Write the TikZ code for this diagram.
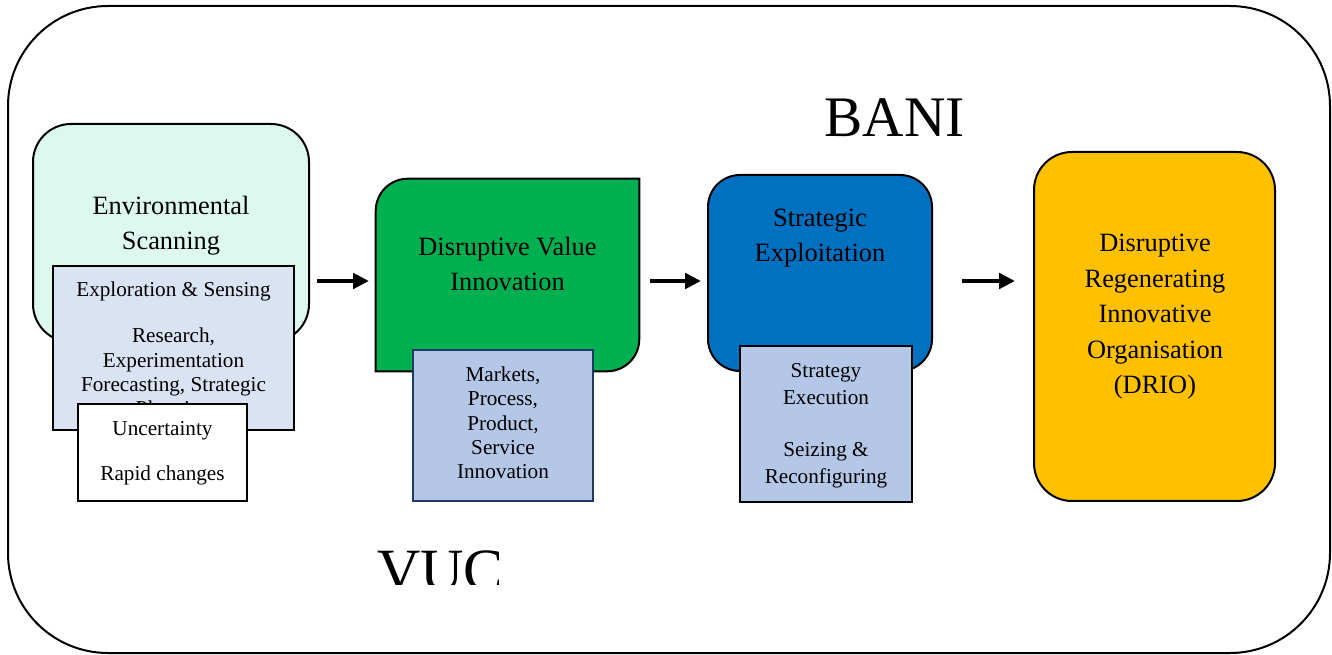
\documentclass[tikz,border=0pt]{standalone}
\usepackage{fontspec}
\setmainfont{Liberation Serif}
\usetikzlibrary{arrows.meta}

\definecolor{envfill}{HTML}{DCF8EF}
\definecolor{expfill}{HTML}{DAE3F3}
\definecolor{dvigreen}{HTML}{00B050}
\definecolor{seblue}{HTML}{0070C0}
\definecolor{drioyellow}{HTML}{FFC000}
\definecolor{subfill}{HTML}{B4C7E7}
\definecolor{navyline}{HTML}{1F3864}

\begin{document}
\begin{tikzpicture}[x=0.75pt,y=-0.75pt,
  box/.style={draw=black,line width=1.5pt,inner sep=0pt},
  maintxt/.style={font=\fontsize{19.8pt}{26.25pt}\selectfont,align=center,inner sep=0pt},
  smalltxt/.style={font=\fontsize{15.9pt}{18.2pt}\selectfont,align=center,inner sep=0pt},
  bigtxt/.style={font=\fontsize{43pt}{50pt}\selectfont,inner sep=0pt},
  arr/.style={line width=3.6pt,-{Triangle[length=12pt,width=11.5pt]}},
]
\useasboundingbox (0,0) rectangle (1332,655);

% outer frame
\node[box,rounded corners=75pt,minimum width=991.5pt,minimum height=485.25pt] (frame) at (669,329.5) {};

% titles
\node[bigtxt,anchor=base] (bani) at (894.5,137) {BANI};
\begin{scope}
  \clip (370,540) rectangle (498,585);
  \node[bigtxt,font=\fontsize{45pt}{50pt}\selectfont,anchor=base west] (vuc) at (377,590) {VUC};
\end{scope}

% environmental scanning cluster
\node[box,fill=envfill,rounded corners=28.5pt,minimum width=207pt,minimum height=163.5pt] (envb) at (171,233) {};
\node[maintxt] (envt) at (171,226) {Environmental\\Scanning};
\node[box,fill=expfill,minimum width=180.75pt,minimum height=123pt] (expb) at (173.5,348) {};
\node[smalltxt] (expt) at (173.5,351) {Exploration \& Sensing\\[16.8pt]Research,\\Experimentation\\Forecasting, Strategic\\Planning};
\node[box,fill=white,minimum width=126.75pt,minimum height=72.75pt] (uncb) at (162.5,452.5) {};
\node[smalltxt] (unct) at (162.5,453) {Uncertainty\\[15.6pt]Rapid changes};

% disruptive value innovation
\node[inner sep=0pt,minimum width=197.25pt,minimum height=144pt] (dvib) at (507.5,275) {};
\draw[line width=1.5pt,fill=dvigreen] (dvib.south west) -- ([yshift=-24pt]dvib.north west)
  arc[start angle=180,end angle=90,radius=24pt] -- (dvib.north east)
  -- ([yshift=24pt]dvib.south east) arc[start angle=0,end angle=-90,radius=24pt] -- cycle;
\node[maintxt] (dvit) at (507.5,263.5) {Disruptive Value\\Innovation};
\node[box,draw=navyline,fill=subfill,minimum width=135pt,minimum height=113.25pt] (mktb) at (503,425.5) {};
\node[smalltxt] (mktt) at (503,423) {Markets,\\Process,\\Product,\\Service\\Innovation};

% strategic exploitation
\node[box,fill=seblue,rounded corners=24pt,minimum width=168pt,minimum height=147pt] (seb) at (820,273) {};
\node[maintxt] (set) at (820,238) {Strategic\\Exploitation};
\node[box,fill=subfill,minimum width=129pt,minimum height=117pt] (strb) at (826,424) {};
\node[smalltxt,font=\fontsize{15.9pt}{20.25pt}\selectfont] (strt) at (826,426) {Strategy\\Execution\\[18.5pt]Seizing \&\\Reconfiguring};

% DRIO
\node[box,fill=drioyellow,rounded corners=28.5pt,minimum width=180.75pt,minimum height=261.75pt] (driob) at (1154.5,326.5) {};
\node[maintxt,font=\fontsize{19.8pt}{26.6pt}\selectfont] (driot) at (1155,317) {Disruptive\\Regenerating\\Innovative\\Organisation\\(DRIO)};

% arrows
\coordinate (a1s) at (317,281);
\coordinate (a1e) at (369,281);
\coordinate (a2s) at (650,281);
\coordinate (a2e) at (701,281);
\coordinate (a3s) at (962,281);
\coordinate (a3e) at (1015,281);
\draw[arr] (a1s) -- (a1e);
\draw[arr] (a2s) -- (a2e);
\draw[arr] (a3s) -- (a3e);
\end{tikzpicture}
\end{document}
